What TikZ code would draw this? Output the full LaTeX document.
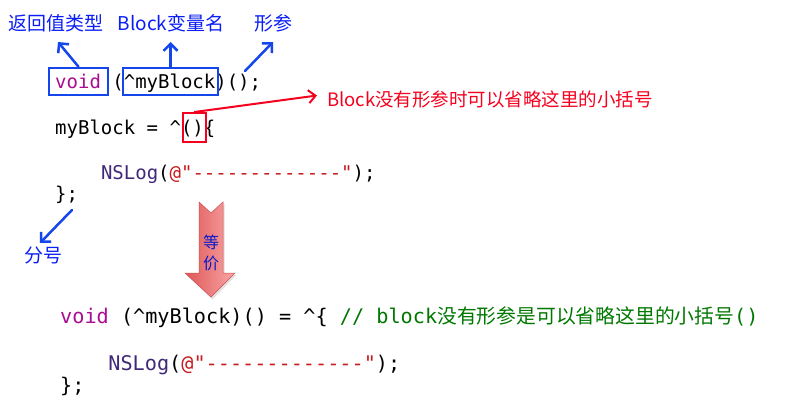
\documentclass[tikz,border=0pt]{standalone}
\usepackage{fontspec}
\setmonofont{DejaVu Sans Mono}
\newfontfamily\cjk{Noto Sans CJK SC}
\usetikzlibrary{arrows.meta}
\definecolor{kw}{RGB}{170,13,145}
\definecolor{cls}{RGB}{65,40,120}
\definecolor{str}{RGB}{200,26,30}
\definecolor{cmt}{RGB}{0,120,0}
\definecolor{annblue}{RGB}{20,70,235}
\definecolor{lblblue}{RGB}{10,30,245}
\definecolor{annred}{RGB}{245,0,30}
\definecolor{arrdark}{RGB}{222,88,88}
\definecolor{arrlight}{RGB}{250,165,165}
\definecolor{arredge}{RGB}{205,80,80}
\tikzset{
  code/.style={anchor=base west, inner sep=0pt, font=\ttfamily\fontsize{19}{19}\selectfont},
  codeb/.style={anchor=base west, inner sep=0pt, font=\ttfamily\fontsize{20.2}{20.2}\selectfont},
  lbl/.style={anchor=base, inner sep=0pt, text=lblblue, font=\cjk\fontsize{19}{19}\selectfont},
  redlbl/.style={anchor=base west, inner sep=0pt, text=annred, font=\cjk\fontsize{18.5}{18.5}\selectfont},
  vlbl/.style={anchor=base, inner sep=0pt, text=lblblue!85!black, font=\cjk\fontsize{16}{16}\selectfont},
  bluebox/.style={draw=annblue, line width=2.5pt, inner sep=0pt, rectangle},
  redbox/.style={draw=annred, line width=2pt, inner sep=0pt, rectangle},
  bluearrow/.style={draw=annblue, line width=2.5pt, line cap=round, -{Straight Barb[length=7pt,width=14pt]}},
  redarrow/.style={draw=annred, line width=2pt, line cap=round, -{Straight Barb[length=7pt,width=13pt]}},
}
\begin{document}
\begin{tikzpicture}[x=1pt,y=-1pt]
\useasboundingbox[fill=white] (0,0) rectangle (800,414);

% code, top block
\node[code] (l1) at (55,88.5) {\textcolor{kw}{void} (\textasciicircum myBlock)();};
\node[code] (l2) at (55,134.5) {myBlock = \textasciicircum()\{};
\node[code] (l3) at (100.8,179.5) {\textcolor{cls}{NSLog}(\textcolor{str}{@"-------------"});};
\node[code] (l4) at (55,200.5) {\};};

% code, bottom block
\node[codeb] (l5) at (60,323) {\textcolor{kw}{void} (\textasciicircum myBlock)() = \textasciicircum\{ \textcolor{cmt}{// block{\cjk\fontsize{19.8}{19.8}\selectfont 没有形参是可以省略这里的小括号}()}};
\node[codeb] (l6) at (108.2,370) {\textcolor{cls}{NSLog}(\textcolor{str}{@"-------------"});};
\node[codeb] (l7) at (60,392) {\};};

% boxes
\node[bluebox, minimum width=59pt, minimum height=27pt] (voidbox) at (78.5,81.5) {};
\node[bluebox, minimum width=95pt, minimum height=27pt] (varbox) at (170.5,81.5) {};
\node[redbox, minimum width=23pt, minimum height=29pt] (parbox) at (194.5,127.5) {};

% labels
\node[lbl] (ret) at (56,31) {返回值类型};
\node[lbl] (var) at (171,31) {Block变量名};
\node[lbl] (param) at (273,31) {形参};
\node[redlbl] (note) at (327,106.5) {Block没有形参时可以省略这里的小括号};
\node[lbl] (semi) at (43,262) {分号};

% arrow tips and tails
\coordinate (rettip) at (58,42);
\coordinate (vartip) at (170.5,42);
\coordinate (paramtail) at (245,71);
\coordinate (paramtip) at (273,42);
\coordinate (notetip) at (317,95.5);
\coordinate (semitail) at (72,210);
\coordinate (semitip) at (40,243);

\draw[bluearrow] (voidbox.north) -- (rettip);
\draw[bluearrow] (varbox.north) -- (vartip);
\draw[bluearrow] (paramtail) -- (paramtip);
\draw[redarrow] (parbox.north) -- (notetip);
\draw[bluearrow] (semitail) -- (semitip);

% big equivalence arrow
\fill[black, opacity=0.12] (200.5,204) -- (212.5,215) -- (224.5,204) -- (224.5,275) -- (236.5,275) -- (212.5,299.5) -- (186.5,275) -- (200.5,275) -- cycle;
\shade[left color=arrdark, right color=arrlight, draw=arredge, line width=0.5pt]
  (199,202) -- (211,213) -- (223,202) -- (223,273) -- (235,273) -- (211,297) -- (185,273) -- (199,273) -- cycle;
\node[vlbl] (deng) at (211,248.5) {等};
\node[vlbl] (jia) at (211,269.5) {价};
\end{tikzpicture}
\end{document}
